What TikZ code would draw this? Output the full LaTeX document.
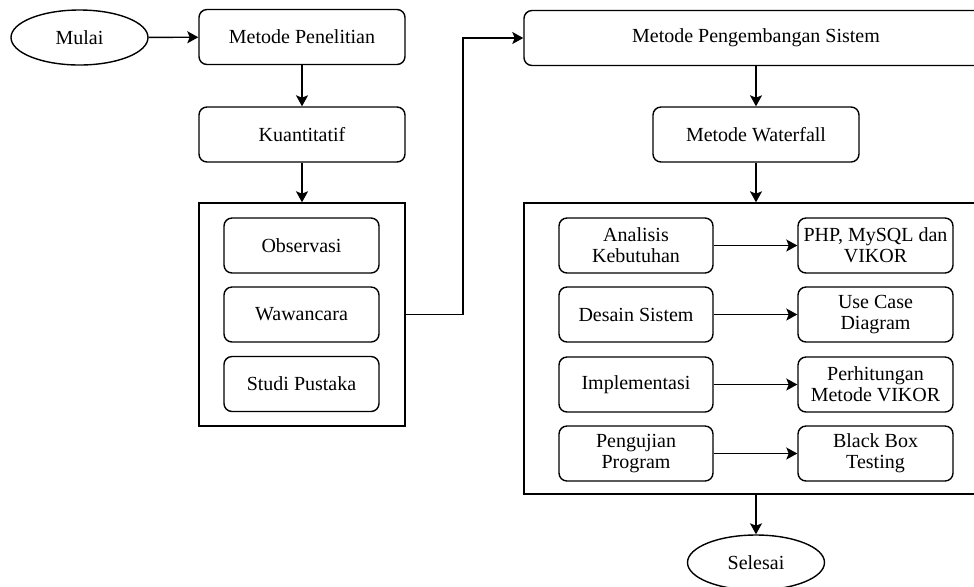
\documentclass[tikz,border=0pt]{standalone}
\usepackage{fontspec}
\setmainfont{Liberation Serif}
\usetikzlibrary{arrows.meta,shapes.geometric}

\begin{document}
\begin{tikzpicture}[x=0.5pt, y=-0.5pt, line width=0.7pt,
    font=\fontsize{10}{10.5}\selectfont,
    >={Stealth[length=5.5pt,width=6pt,inset=1.2pt]},
    proses/.style={draw, rounded corners=4pt, align=center, inner sep=1pt,
      minimum height=27.5pt},
    wadah/.style={draw},
    ujung/.style={draw, ellipse, minimum width=68.5pt, minimum height=27.5pt}]

    \useasboundingbox (0,0) rectangle (974,586);

    \node[ujung] (mulai) at (79.5, 37.5) {Mulai};
    \node[proses, minimum width=103pt] (pen) at (302, 37) {Metode Penelitian};
    \node[proses, minimum width=103pt] (kuan) at (302, 134.5) {Kuantitatif};
    \node[wadah, minimum width=103pt, minimum height=111.5pt] (box1) at (302, 314.5) {};
    \node[proses, minimum width=77.5pt] (obs) at (301.5, 245.5) {Observasi};
    \node[proses, minimum width=77.5pt] (waw) at (301.5, 314.5) {Wawancara};
    \node[proses, minimum width=77.5pt] (stu) at (301.5, 384) {Studi Pustaka};

    \node[proses, minimum width=232pt] (pengem) at (756, 38) {Metode Pengembangan Sistem};
    \node[proses, minimum width=103pt] (water) at (756, 134.5) {Metode Waterfall};
    \node[wadah, minimum width=232pt, minimum height=145.5pt] (box2) at (756, 348.5) {};

    \node[proses, minimum width=77pt] (ana) at (636, 245.5) {Analisis\\Kebutuhan};
    \node[proses, minimum width=77.5pt] (php) at (875.5, 245.5) {PHP, MySQL dan\\VIKOR};
    \node[proses, minimum width=77pt] (des) at (636, 314.5) {Desain Sistem};
    \node[proses, minimum width=77.5pt] (ucd) at (875.5, 314.5) {Use Case\\Diagram};
    \node[proses, minimum width=77pt] (imp) at (636, 384.5) {Implementasi};
    \node[proses, minimum width=77.5pt] (hit) at (875.5, 384.5) {Perhitungan\\Metode VIKOR};
    \node[proses, minimum width=77pt] (uji) at (636, 453.5) {Pengujian\\Program};
    \node[proses, minimum width=77.5pt] (bbt) at (875.5, 453.5) {Black Box\\Testing};

    \node[ujung] (selesai) at (756, 562.5) {Selesai};

    \draw [->] (mulai) to (pen);
    \draw [->] (pen) to (kuan);
    \draw [->] (kuan) to (box1);
    \draw [->] (box1.east) -- (463, 314.5) -- (463, 38) -- (pengem.west);
    \draw [->] (pengem) to (water);
    \draw [->] (water) to (box2);
    \draw [->] (ana) to (php);
    \draw [->] (des) to (ucd);
    \draw [->] (imp) to (hit);
    \draw [->] (uji) to (bbt);
    \draw [->] (box2) to (selesai);

  \end{tikzpicture}
\end{document}
